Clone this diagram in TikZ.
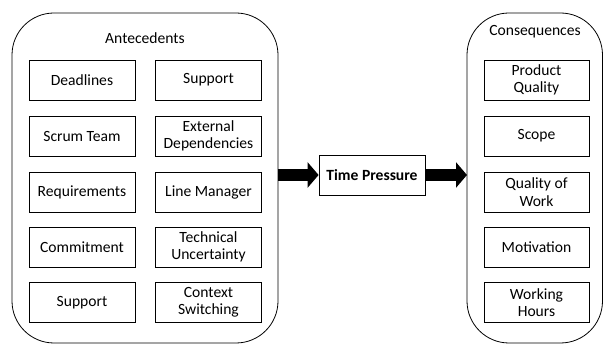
\documentclass[tikz,border=0pt]{standalone}
\usepackage{fontspec}
\setmainfont{Carlito}
\usetikzlibrary{arrows.meta}
\begin{document}
\begin{tikzpicture}[x=1pt,y=-1pt,
  every node/.style={font=\fontsize{15.6}{17.5}\selectfont, align=center},
  factor/.style={draw, line width=0.8pt, minimum width=106pt, minimum height=40pt, inner sep=1pt},
  group/.style={draw, line width=0.8pt, rounded corners=42pt},
  flow/.style={line width=12pt, -{Triangle[length=11pt,width=25pt]}}]
\useasboundingbox (0,0) rectangle (603,344);
% containers
\draw[group] (12,13) rectangle (278,343);
\coordinate (anteE) at (278,175);
\draw[group] (467,13) rectangle (602.5,343);
\coordinate (consW) at (467,175);
\node (anteT) at (145,38) {Antecedents};
\node (consT) at (535,32) {Consequences};
% antecedents
\node[factor] (a1) at (82,80) {Deadlines};
\node[factor] (a2) at (82,136) {Scrum Team};
\node[factor] (a3) at (82,192) {Requirements};
\node[factor] (a4) at (82,247) {Commitment};
\node[factor] (a5) at (82,302.5) {Support};
\node[factor] (b1) at (208.5,80) {Support};
\node[factor] (b2) at (208.5,136) {External\\Dependencies};
\node[factor] (b3) at (208.5,192) {Line Manager};
\node[factor] (b4) at (208.5,247) {Technical\\Uncertainty};
\node[factor] (b5) at (208.5,302.5) {Context\\Switching};
% consequences
\node[factor, minimum width=105pt] (c1) at (536.5,80) {Product\\Quality};
\node[factor, minimum width=105pt] (c2) at (536.5,136) {Scope};
\node[factor, minimum width=105pt] (c3) at (536.5,192) {Quality of\\Work};
\node[factor, minimum width=105pt] (c4) at (536.5,247) {Motivation};
\node[factor, minimum width=105pt] (c5) at (536.5,302.5) {Working\\Hours};
% central construct
\node[factor, font=\fontsize{15.6}{17.5}\selectfont\bfseries] (tp) at (372,175) {Time Pressure};
% flow arrows
\draw[flow] (anteE) -- (tp.west);
\draw[flow] (tp.east) -- (consW);
\end{tikzpicture}
\end{document}
